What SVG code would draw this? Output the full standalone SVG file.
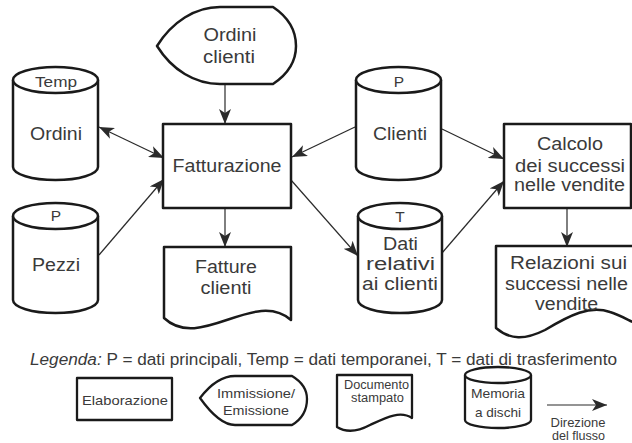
<svg xmlns="http://www.w3.org/2000/svg" width="632" height="443" viewBox="0 0 632 443">
  <style>
    .shape { fill: #fff; stroke: #1a1a1a; stroke-width: 2.5; stroke-linejoin: round; }
    .lshape { fill: #fff; stroke: #1a1a1a; stroke-width: 2.3; stroke-linejoin: round; }
    .conn { stroke: #2a2a2a; stroke-width: 1.2; fill: none; }
    .t { font-family: "Liberation Sans", Arial, sans-serif; font-size: 17.5px; fill: #3a3a3a; text-anchor: middle; }
    .ts { font-family: "Liberation Sans", Arial, sans-serif; font-size: 15.5px; fill: #3a3a3a; text-anchor: middle; }
    .tl { font-family: "Liberation Sans", Arial, sans-serif; font-size: 13.5px; fill: #3a3a3a; text-anchor: middle; }
    .tx { font-family: "Liberation Sans", Arial, sans-serif; font-size: 12.5px; fill: #3a3a3a; text-anchor: middle; }
    .leg { font-family: "Liberation Sans", Arial, sans-serif; font-size: 16px; fill: #3a3a3a; }
  </style>
  <defs>
    <marker id="arrow" markerUnits="userSpaceOnUse" viewBox="0 0 15 12" markerWidth="15" markerHeight="12" refX="15" refY="6" orient="auto-start-reverse">
      <path d="M0,0 L15,6 L0,12 L4,6 Z" fill="#2a2a2a"/>
    </marker>
  </defs>

  <rect width="632" height="443" fill="#fff"/>

  <!-- connectors -->
  <g id="connectors">
    <line class="conn" x1="225" y1="84" x2="225" y2="124" marker-end="url(#arrow)"/>
    <line class="conn" x1="99" y1="127" x2="164" y2="158" marker-start="url(#arrow)" marker-end="url(#arrow)"/>
    <line class="conn" x1="99" y1="255" x2="164" y2="179" marker-end="url(#arrow)"/>
    <line class="conn" x1="355" y1="127" x2="292" y2="157" marker-end="url(#arrow)"/>
    <line class="conn" x1="442" y1="129" x2="504" y2="159" marker-end="url(#arrow)"/>
    <line class="conn" x1="291" y1="180" x2="358" y2="256" marker-end="url(#arrow)"/>
    <line class="conn" x1="442" y1="253" x2="504" y2="181" marker-end="url(#arrow)"/>
    <line class="conn" x1="225" y1="208" x2="225" y2="247" marker-end="url(#arrow)"/>
    <line class="conn" x1="567" y1="208" x2="567" y2="247" marker-end="url(#arrow)"/>
  </g>

  <!-- input: Ordini clienti -->
  <g id="ordini-clienti">
    <path class="shape" d="M157,46 C172,22 195,7 220,7 L273,7 C288,17 296,30 296,46 C296,62 288,74 273,84 L220,84 C195,84 172,70 157,46 Z"/>
    <text class="t" x="230" y="41" textLength="53" lengthAdjust="spacingAndGlyphs">Ordini</text>
    <text class="t" x="229" y="63" textLength="52" lengthAdjust="spacingAndGlyphs">clienti</text>
  </g>

  <!-- disk: Ordini (Temp) -->
  <g id="ordini">
    <path class="shape" d="M13,80 V167 A42.5,13 0 0 0 98,167 V80"/>
    <ellipse class="shape" cx="55.5" cy="80" rx="42.5" ry="13"/>
    <text class="ts" x="56" y="87" textLength="42" lengthAdjust="spacingAndGlyphs">Temp</text>
    <text class="t" x="56" y="140" textLength="52" lengthAdjust="spacingAndGlyphs">Ordini</text>
  </g>

  <!-- process: Fatturazione -->
  <g id="fatturazione">
    <rect class="shape" x="163" y="124" width="128" height="84"/>
    <text class="t" x="227" y="172" textLength="109" lengthAdjust="spacingAndGlyphs">Fatturazione</text>
  </g>

  <!-- disk: Pezzi (P) -->
  <g id="pezzi">
    <path class="shape" d="M13,216 V300 A42.5,13 0 0 0 98,300 V216"/>
    <ellipse class="shape" cx="55.5" cy="216" rx="42.5" ry="13"/>
    <text class="ts" x="56" y="221">P</text>
    <text class="t" x="56" y="271" textLength="48" lengthAdjust="spacingAndGlyphs">Pezzi</text>
  </g>

  <!-- document: Fatture clienti -->
  <g id="fatture-clienti">
    <path class="shape" d="M164,247 H291 V320 C255,288 200,352 164,318 Z"/>
    <text class="t" x="226" y="273" textLength="62" lengthAdjust="spacingAndGlyphs">Fatture</text>
    <text class="t" x="226" y="294" textLength="51" lengthAdjust="spacingAndGlyphs">clienti</text>
  </g>

  <!-- disk: Clienti (P) -->
  <g id="clienti">
    <path class="shape" d="M356,80 V167 A42.5,13 0 0 0 441,167 V80"/>
    <ellipse class="shape" cx="398.5" cy="80" rx="42.5" ry="13"/>
    <text class="ts" x="399" y="87">P</text>
    <text class="t" x="400" y="140" textLength="54" lengthAdjust="spacingAndGlyphs">Clienti</text>
  </g>

  <!-- disk: Dati relativi ai clienti (T) -->
  <g id="dati-relativi">
    <path class="shape" d="M358,216 V300 A42,13 0 0 0 442,300 V216"/>
    <ellipse class="shape" cx="400" cy="216" rx="42" ry="13"/>
    <text class="ts" x="400" y="222">T</text>
    <text class="t" x="400.5" y="250" textLength="35" lengthAdjust="spacingAndGlyphs">Dati</text>
    <text class="t" x="400.5" y="270" textLength="69" lengthAdjust="spacingAndGlyphs">relativi</text>
    <text class="t" x="400" y="290" textLength="76" lengthAdjust="spacingAndGlyphs">ai clienti</text>
  </g>

  <!-- process: Calcolo dei successi nelle vendite -->
  <g id="calcolo">
    <rect class="shape" x="504" y="124" width="127" height="84"/>
    <text class="t" x="570" y="150" textLength="66" lengthAdjust="spacingAndGlyphs">Calcolo</text>
    <text class="t" x="570" y="172" textLength="110" lengthAdjust="spacingAndGlyphs">dei successi</text>
    <text class="t" x="569.5" y="191" textLength="111" lengthAdjust="spacingAndGlyphs">nelle vendite</text>
  </g>

  <!-- document: Relazioni sui successi nelle vendite -->
  <g id="relazioni">
    <path class="shape" d="M496,246 H637 V324 C628,320 620,315 610,312 C590,305 570,315 545,330 C525,340 510,340 496,328 Z"/>
    <text class="t" x="568.5" y="269" textLength="117" lengthAdjust="spacingAndGlyphs">Relazioni sui</text>
    <text class="t" x="566.5" y="290" textLength="123" lengthAdjust="spacingAndGlyphs">successi nelle</text>
    <text class="t" x="566.5" y="310" textLength="63" lengthAdjust="spacingAndGlyphs">vendite</text>
  </g>

  <!-- legend -->
  <g id="legenda">
    <text class="leg" x="30" y="365" textLength="587" lengthAdjust="spacingAndGlyphs"><tspan font-style="italic">Legenda:</tspan> P = dati principali, Temp = dati temporanei, T = dati di trasferimento</text>

    <g id="leg-elaborazione">
      <rect class="lshape" x="77" y="378" width="95" height="42"/>
      <text class="tl" x="125" y="405" textLength="86" lengthAdjust="spacingAndGlyphs">Elaborazione</text>
    </g>

    <g id="leg-immissione">
      <path class="lshape" d="M200,398 C210,385 222,376 235,376 L292,376 C302,382 307,390 307,399 C307,410 302,419 292,425 L235,425 C222,425 210,412 200,398 Z"/>
      <text class="tl" x="256" y="398" textLength="78" lengthAdjust="spacingAndGlyphs">Immissione/</text>
      <text class="tl" x="256" y="415" textLength="66" lengthAdjust="spacingAndGlyphs">Emissione</text>
    </g>

    <g id="leg-documento">
      <path class="lshape" d="M337,375 H412 V418 C400,410 385,418 370,425 C355,433 345,432 337,427 Z"/>
      <text class="tx" x="376.5" y="389" textLength="65" lengthAdjust="spacingAndGlyphs">Documento</text>
      <text class="tx" x="377.5" y="402" textLength="53" lengthAdjust="spacingAndGlyphs">stampato</text>
    </g>

    <g id="leg-memoria">
      <path class="lshape" d="M465,375 V420 A33,8 0 0 0 531,420 V375"/>
      <ellipse class="lshape" cx="498" cy="375" rx="33" ry="8"/>
      <text class="tl" x="498" y="398" textLength="54" lengthAdjust="spacingAndGlyphs">Memoria</text>
      <text class="tl" x="498" y="417" textLength="46" lengthAdjust="spacingAndGlyphs">a dischi</text>
    </g>

    <g id="leg-direzione">
      <line class="conn" x1="547" y1="405" x2="607" y2="405" marker-end="url(#arrow)"/>
      <text class="tx" x="578" y="427" textLength="55" lengthAdjust="spacingAndGlyphs">Direzione</text>
      <text class="tx" x="578.5" y="440" textLength="53" lengthAdjust="spacingAndGlyphs">del flusso</text>
    </g>
  </g>
</svg>
